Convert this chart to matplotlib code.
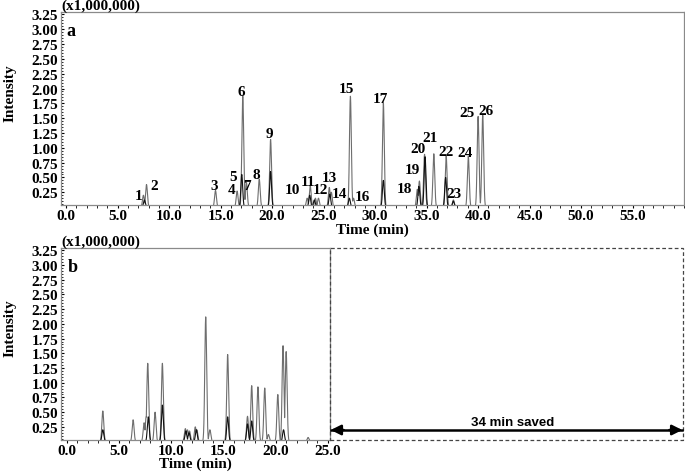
import numpy as np
import matplotlib
matplotlib.use("Agg")
import matplotlib.pyplot as plt
from matplotlib.ticker import MultipleLocator, FormatStrFormatter
from matplotlib.patches import Rectangle

plt.rcParams["font.family"] = "Liberation Serif"
plt.rcParams["font.weight"] = "bold"

# (a) conventional method, 60 min run -- intensity in x1,000,000
rt_a = [7.5, 7.8, 14.5, 16.6, 17.15, 17.5, 18.75, 19.85, 23.4, 23.7, 24.2, 24.5,
        25.55, 25.75, 27.6, 27.9, 30.8, 34.1, 34.3, 34.8, 35.7, 36.9, 37.6,
        39.05, 40.0, 40.45, 43.8]
height_a = [0.2, 0.38, 0.28, 0.27, 1.87, 0.42, 0.47, 1.14, 0.15, 0.36, 0.15, 0.15,
            0.33, 0.25, 1.87, 0.15, 1.76, 0.3, 0.44, 0.89, 0.9, 0.86, 0.12,
            0.86, 1.53, 1.55, 0.03]
# second (darker) trace in panel a
rt_a2 = [7.6, 17.05, 19.85, 23.65, 24.1, 25.6, 27.5, 30.8, 34.25, 34.85, 36.85, 37.6]
height_a2 = [0.12, 0.55, 0.6, 0.2, 0.12, 0.22, 0.15, 0.45, 0.35, 0.85, 0.5, 0.1]

labels_a = [str(i) for i in range(1, 27)]
label_t_a = [7.0, 8.5, 14.4, 16.1, 16.25, 17.05, 17.6, 18.45, 19.75, 22.0, 23.5, 24.65, 25.6,
             26.5, 27.25, 28.8, 30.55, 32.8, 33.6, 34.2, 35.3, 36.9, 37.7, 38.7, 38.9, 40.8]
label_h_a = [0.19, 0.36, 0.37, 0.29, 0.52, 1.95, 0.36, 0.55, 1.24, 0.29, 0.44, 0.29, 0.50,
             0.23, 2.0, 0.18, 1.83, 0.31, 0.64, 0.99, 1.17, 0.93, 0.23, 0.92, 1.59, 1.63]

# (b) fast method, 25 min run
rt_b = [3.45, 6.35, 7.4, 7.6, 7.75, 8.45, 9.15, 11.35, 11.55, 11.75, 12.3, 12.45,
        13.3, 13.7, 15.4, 17.3, 17.7, 18.3, 18.95, 19.3, 20.2, 20.7, 21.0, 23.1]
height_b = [0.52, 0.37, 0.32, 0.42, 1.33, 0.5, 1.33, 0.22, 0.2, 0.18, 0.25, 0.2,
            2.12, 0.2, 1.48, 0.43, 0.95, 0.93, 0.91, 0.12, 0.8, 1.63, 1.53, 0.07]
rt_b2 = [3.45, 7.8, 9.15, 11.4, 11.7, 12.4, 15.4, 17.3, 17.7, 20.75]
height_b2 = [0.2, 0.42, 0.62, 0.18, 0.15, 0.2, 0.42, 0.3, 0.35, 0.2]

sigma = 0.09
FS = 11


def trace(t, rts, heights):
    y = np.zeros_like(t)
    for r, h in zip(rts, heights):
        y = np.maximum(y, h * np.exp(-0.5 * ((t - r) / sigma) ** 2))
    return y


def style_axes(ax, xmax):
    ax.set_ylim(0.035, 3.29)
    ax.yaxis.set_minor_locator(MultipleLocator(0.05))
    ax.xaxis.set_minor_locator(MultipleLocator(1))
    ax.set_yticks(np.arange(0.25, 3.26, 0.25))
    ax.set_xticks(np.arange(0, xmax + 0.1, 5))
    ax.xaxis.set_major_formatter(FormatStrFormatter("%.1f"))
    ax.yaxis.set_major_formatter(FormatStrFormatter("%.2f"))
    ax.tick_params(axis="y", direction="in", length=2, which="both", labelsize=FS, pad=2)
    ax.tick_params(axis="y", which="minor", length=1.5)
    ax.tick_params(axis="x", direction="out", length=2, which="both", labelsize=FS, pad=1)
    for lab in ax.get_xticklabels() + ax.get_yticklabels():
        lab.set_fontweight("bold")
    for s in ax.spines.values():
        s.set_color("#8a8a8a")
        s.set_linewidth(0.9)
    ax.set_xlabel("Time (min)", fontsize=FS, fontweight="bold", labelpad=0)
    ax.text(0.0, 1.0, "(x1,000,000)", transform=ax.transAxes, fontsize=FS,
            fontweight="bold", ha="left", va="bottom")


fig = plt.figure(figsize=(6.85, 4.77), dpi=100)
ax_a = fig.add_axes([0.0891, 0.5681, 0.9095, 0.4046])
ax_b = fig.add_axes([0.0891, 0.0765, 0.3927, 0.4015])

t_a = np.linspace(0, 60, 12000)
ax_a.plot(t_a, trace(t_a, rt_a, height_a), color="#6e6e6e", lw=0.8)
ax_a.plot(t_a, trace(t_a, rt_a2, height_a2), color="#111111", lw=0.8)
ax_a.set_xlim(-0.5, 60.0)
style_axes(ax_a, 55)
ax_a.text(0.0, 2.98, "a", fontsize=13, fontweight="bold", ha="left", va="center")
for lab, lt, lh in zip(labels_a, label_t_a, label_h_a):
    ax_a.text(lt, lh, lab, fontsize=FS, fontweight="bold", ha="center", va="center")

t_b = np.linspace(0, 25, 6000)
ax_b.plot(t_b, trace(t_b, rt_b, height_b), color="#6e6e6e", lw=0.8)
ax_b.plot(t_b, trace(t_b, rt_b2, height_b2), color="#111111", lw=0.8)
ax_b.set_xlim(-0.55, 25.2)
style_axes(ax_b, 25)
ax_b.text(0.1, 2.98, "b", fontsize=13, fontweight="bold", ha="left", va="center")

# y labels sit a bit above the middle of each panel
fig.text(10 / 685, 1 - 93 / 477, "Intensity", rotation=90, fontsize=FS,
         fontweight="bold", ha="center", va="center")
fig.text(10 / 685, 1 - 328 / 477, "Intensity", rotation=90, fontsize=FS,
         fontweight="bold", ha="center", va="center")

# dashed box marking the time saved by the fast method
pb = ax_b.get_position()
x0 = pb.x1
x1 = 683 / 685
fig.add_artist(Rectangle((x0, pb.y0), x1 - x0, pb.height, transform=fig.transFigure,
                         fill=False, ls=(0, (3, 2)), lw=0.9, ec="#444444"))
ya = 1 - 431 / 477
fig.add_artist(plt.Line2D([x0 + 0.002, x1 - 0.002], [ya, ya], transform=fig.transFigure,
                          color="black", lw=1.8))
for tip, tail in [(x0 + 0.001, x0 + 0.02), (x1 - 0.001, x1 - 0.02)]:
    ax_b.annotate("", xy=(tip, ya), xytext=(tail, ya), xycoords="figure fraction",
                  textcoords="figure fraction",
                  arrowprops=dict(arrowstyle="-|>,head_length=0.6,head_width=0.3",
                                  color="black", lw=1.8, shrinkA=0, shrinkB=0),
                  annotation_clip=False)
fig.text(513 / 685, 1 - 423 / 477, "34 min saved", family="Liberation Sans",
         fontsize=9.5, fontweight="bold", ha="center", va="center")

fig.savefig("out.png", dpi=100)
